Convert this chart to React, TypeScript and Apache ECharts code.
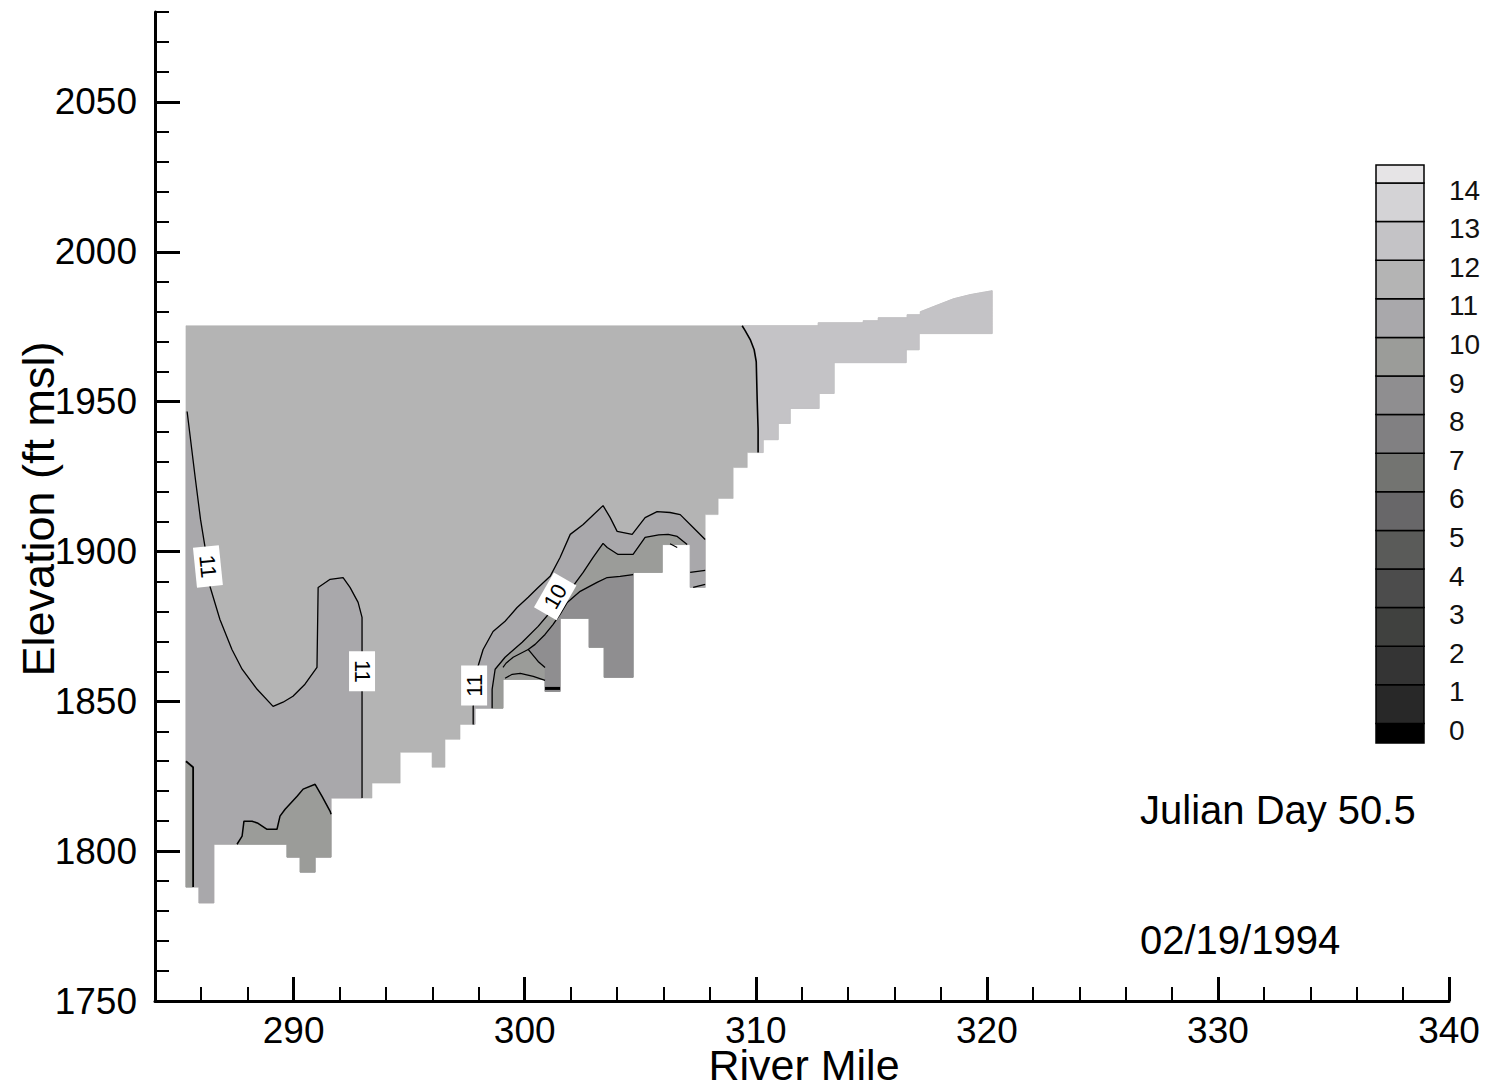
import React, { useEffect, useRef } from 'react';
import * as echarts from 'echarts';

// ---------- tick labels ----------
const X_MAJOR = [290, 300, 310, 320, 330, 340];
const Y_MAJOR = [1750, 1800, 1850, 1900, 1950, 2000, 2050];

// ---------- axis titles / annotation ----------
const X_TITLE = 'River Mile';
const Y_TITLE = 'Elevation (ft msl)';
const DAY_TEXT = 'Julian Day 50.5';
const DATE_TEXT = '02/19/1994';

// ---------- legend levels (deg C) and flood colours ----------
const LEVELS = [0, 1, 2, 3, 4, 5, 6, 7, 8, 9, 10, 11, 12, 13, 14];
// index 0 = below 0, index k = (k-1 .. k), index 15 = above 14
const LEVEL_COLORS = [
  '#000000', '#282828', '#343434', '#40413f', '#4c4c4c', '#5a5b59', '#686769', '#737471',
  '#818082', '#8f8e90', '#9b9c99', '#a9a8ab', '#b4b4b4', '#c4c3c6', '#d4d3d6', '#e6e4e6',
];

// ---------- model domain outline [river mile, elevation ft] ----------
const DOMAIN: number[][] = [
  [285.34, 1975.3], [312.70, 1975.3], [312.70, 1976.3], [314.65, 1976.3], [314.65, 1977.0],
  [315.30, 1977.0], [315.30, 1978.0], [316.55, 1978.0], [316.55, 1979.0], [317.12, 1979.0],
  [317.12, 1980.0], [317.55, 1981.3], [318.55, 1984.3], [319.28, 1985.7], [319.71, 1986.3],
  [320.23, 1987.0], [320.23, 1972.7], [317.07, 1972.7], [317.07, 1967.3], [316.51, 1967.3],
  [316.51, 1963.0], [313.39, 1963.0], [313.39, 1952.7], [312.74, 1952.7], [312.74, 1947.7],
  [311.49, 1947.7], [311.49, 1942.7], [310.97, 1942.7], [310.97, 1937.3], [310.32, 1937.3],
  [310.32, 1933.0], [309.63, 1933.0], [309.63, 1928.0], [309.02, 1928.0], [309.02, 1917.7],
  [308.37, 1917.7], [308.37, 1912.3], [307.81, 1912.3], [307.81, 1888.0], [307.16, 1888.0],
  [307.16, 1902.3], [305.95, 1902.3], [305.95, 1893.0], [304.69, 1893.0], [304.69, 1858.0],
  [303.44, 1858.0], [303.44, 1868.0], [302.79, 1868.0], [302.79, 1877.7], [301.53, 1877.7],
  [301.53, 1853.3], [300.88, 1853.3], [300.88, 1857.3], [299.06, 1857.3], [299.06, 1847.7],
  [297.85, 1847.7], [297.85, 1842.3], [297.20, 1842.3], [297.20, 1837.3], [296.55, 1837.3],
  [296.55, 1828.0], [295.99, 1828.0], [295.99, 1833.0], [294.61, 1833.0], [294.61, 1822.7],
  [293.39, 1822.7], [293.39, 1817.7], [291.62, 1817.7], [291.62, 1798.0], [290.93, 1798.0],
  [290.93, 1793.0], [290.28, 1793.0], [290.28, 1798.0], [289.71, 1798.0], [289.71, 1802.3],
  [286.55, 1802.3], [286.55, 1782.7], [285.90, 1782.7], [285.90, 1788.0], [285.34, 1788.0],
];

// ---------- contour lines ----------
const C12: number[][] = [
  [309.41, 1975.3], [309.54, 1973.7], [309.76, 1970.7], [309.93, 1967.3], [310.02, 1963.3],
  [310.06, 1950.7], [310.10, 1940.7], [310.10, 1933.0],
];
const C11_LEFT: number[][] = [
  [285.39, 1946.7], [285.75, 1924.0], [285.97, 1910.7], [286.16, 1901.7], [286.38, 1888.3],
  [286.81, 1877.3], [287.33, 1867.3], [287.77, 1860.7], [288.42, 1854.0], [289.11, 1848.3],
  [289.54, 1849.7], [289.97, 1851.7], [290.49, 1855.7], [291.01, 1861.3], [291.06, 1888.0],
  [291.58, 1890.7], [292.14, 1891.3], [292.44, 1888.0], [292.79, 1883.0], [292.96, 1878.0],
  [292.96, 1817.7],
];
const C10_BOTTOMLEFT: number[][] = [
  [287.55, 1802.3], [287.77, 1805.0], [287.85, 1810.0], [288.20, 1810.0], [288.46, 1809.3],
  [288.85, 1807.3], [289.28, 1807.3], [289.41, 1811.7], [289.63, 1814.0], [290.15, 1818.3],
  [290.41, 1820.7], [290.93, 1822.3], [291.23, 1818.3], [291.58, 1813.3], [291.62, 1812.3],
];
const C10_STRIP: number[][] = [[285.34, 1830.0], [285.65, 1828.0], [285.65, 1788.0]];
const C11_RIGHT: number[][] = [
  [297.77, 1842.3], [297.77, 1848.3], [297.98, 1861.7], [298.20, 1867.3], [298.63, 1873.3],
  [299.15, 1876.7], [299.67, 1881.3], [300.15, 1884.7], [300.58, 1888.0], [301.10, 1891.7],
  [301.53, 1898.0], [301.97, 1905.7], [302.53, 1909.0], [303.39, 1915.3], [303.70, 1911.3],
  [304.00, 1906.7], [304.65, 1905.7], [305.21, 1911.3], [305.73, 1913.3], [306.29, 1913.0],
  [306.73, 1912.3], [307.29, 1908.0], [307.81, 1904.0],
];
const C10_RIGHT: number[][] = [
  [298.59, 1847.7], [298.59, 1854.0], [298.72, 1860.7], [299.15, 1864.7], [299.89, 1869.7],
  [300.58, 1875.0], [301.10, 1879.7], [301.66, 1884.0], [302.05, 1888.0], [302.53, 1893.0],
  [302.96, 1898.0], [303.39, 1902.7], [303.57, 1901.3], [304.04, 1899.0], [304.69, 1899.0],
  [305.21, 1904.7], [305.80, 1905.5], [306.21, 1905.7], [306.60, 1905.0], [307.03, 1902.3],
];
const C9_RIGHT: number[][] = [
  [304.69, 1892.3], [304.13, 1891.7], [303.57, 1891.3], [303.13, 1889.7], [302.40, 1886.7],
  [301.84, 1883.0], [301.53, 1879.0], [301.23, 1875.7], [300.88, 1872.3], [300.45, 1869.0],
  [300.15, 1867.3], [300.58, 1863.3], [300.88, 1861.3],
];
const C9_SPUR: number[][] = [[300.15, 1867.3], [299.50, 1864.7], [299.19, 1862.7], [299.06, 1861.3]];
const C8_BIT: number[][] = [[299.15, 1857.7], [299.46, 1859.0], [299.81, 1859.3], [300.37, 1858.3], [300.88, 1857.0]];
const C7_BIT: number[][] = [[300.88, 1854.3], [301.53, 1854.3]];
const STRIP_BITS: number[][][] = [
  [[307.16, 1893.0], [307.81, 1893.7]],
  [[307.29, 1888.0], [307.81, 1889.0]],
  [[306.29, 1902.6], [306.60, 1901.3]],
];

// ---------- contour labels ----------
const LABEL_POS: number[][] = [[286.29, 1895.0], [292.96, 1860.0], [297.81, 1855.3], [301.32, 1885.0]];
const LABEL_TEXT = ['11', '11', '11', '10'];

// ---------- flooded regions built from the arrays above ----------
const REGIONS: { level: number; pts: number[][] }[] = [
  { level: 11, pts: DOMAIN },
  { level: 12, pts: [...C12, ...DOMAIN.slice(1, 31).reverse()] },
  { level: 10, pts: [...C11_LEFT, ...DOMAIN.slice(67, 80), [285.34, C11_LEFT[0][1]]] },
  { level: 9, pts: [...C10_BOTTOMLEFT, ...DOMAIN.slice(68, 75)] },
  { level: 9, pts: [...C10_STRIP, DOMAIN[79]] },
  { level: 10, pts: [...C11_RIGHT, ...DOMAIN.slice(38, 57)] },
  { level: 9, pts: [...C10_RIGHT, ...DOMAIN.slice(41, 55)] },
  { level: 8, pts: [...C9_RIGHT, ...DOMAIN.slice(43, 53).reverse()] },
];

const CONTOURS: { pts: number[][]; w: number }[] = [
  { pts: C12, w: 1.6 },
  { pts: C11_LEFT, w: 1.3 },
  { pts: C10_BOTTOMLEFT, w: 1.5 },
  { pts: C10_STRIP, w: 1.8 },
  { pts: C11_RIGHT, w: 1.3 },
  { pts: C10_RIGHT, w: 1.3 },
  { pts: C9_RIGHT, w: 1.3 },
  { pts: C9_SPUR, w: 1.2 },
  { pts: C8_BIT, w: 1.2 },
  { pts: C7_BIT, w: 3 },
  ...STRIP_BITS.map((p) => ({ pts: p, w: 1.2 })),
];

const FONT = "'Liberation Sans', Arial, Helvetica, sans-serif";
const LABEL_ROT = [-1.47, -Math.PI / 2, Math.PI / 2, 1.05];

function buildGraphic() {
  const x = 1376;
  const w = 48;
  const top = 165;
  const bottom = 743;
  const bnd = (v: number) => 183 + (14 - v) * 38.6;
  const els: any[] = [];
  for (let i = 0; i < LEVEL_COLORS.length; i++) {
    const y0 = i === LEVEL_COLORS.length - 1 ? top : bnd(i);
    const y1 = i === 0 ? bottom : bnd(i - 1);
    els.push({
      type: 'rect',
      shape: { x, y: y0, width: w, height: y1 - y0 },
      style: { fill: LEVEL_COLORS[i], stroke: '#000', lineWidth: 1.5 },
      silent: true,
    });
  }
  LEVELS.forEach((v) => {
    els.push({
      type: 'text',
      x: 1449,
      y: bnd(v) + 7,
      style: {
        text: String(v),
        fontSize: 28,
        fontFamily: FONT,
        fill: '#111',
        align: 'left',
        verticalAlign: 'middle',
      },
      silent: true,
    });
  });
  els.push({
    type: 'text',
    x: 1140,
    y: 810,
    style: { text: DAY_TEXT, fontSize: 40, fontFamily: FONT, fill: '#000', align: 'left', verticalAlign: 'middle' },
  });
  els.push({
    type: 'text',
    x: 1140,
    y: 940,
    style: { text: DATE_TEXT, fontSize: 40, fontFamily: FONT, fill: '#000', align: 'left', verticalAlign: 'middle' },
  });
  els.push({
    type: 'text',
    x: 804,
    y: 1065,
    style: {
      text: X_TITLE, fontSize: 43, lineHeight: 40, fontFamily: FONT, fill: '#000',
      align: 'center', verticalAlign: 'middle',
    },
  });
  els.push({
    type: 'text',
    x: 38,
    y: 509,
    rotation: Math.PI / 2,
    style: { text: Y_TITLE, fontSize: 45, fontFamily: FONT, fill: '#000', align: 'center', verticalAlign: 'middle' },
  });
  return els;
}

function buildOption(): any {
  return {
    animation: false,
    backgroundColor: '#ffffff',
    grid: { left: 155, top: 12, right: 42, bottom: 90, containLabel: false, outerBoundsMode: 'none' },
    xAxis: [
      {
        type: 'value',
        position: 'bottom',
        min: 284,
        max: 340,
        interval: 2,
        axisLine: { show: true, lineStyle: { color: '#000', width: 3 } },
        axisTick: { show: true, inside: true, length: 14, lineStyle: { color: '#000', width: 2 } },
        axisLabel: {
          customValues: X_MAJOR,
          formatter: (v: number) => String(v),
          fontSize: 37,
          lineHeight: 36,
          fontFamily: FONT,
          color: '#000',
          margin: 11,
        },
        splitLine: { show: false },
      },
      {
        type: 'value',
        position: 'bottom',
        min: 284,
        max: 340,
        axisLine: { show: false },
        axisTick: { show: true, inside: true, length: 24, customValues: X_MAJOR, lineStyle: { color: '#000', width: 3 } },
        axisLabel: { show: false },
        splitLine: { show: false },
      },
    ],
    yAxis: [
      {
        type: 'value',
        position: 'left',
        min: 1750,
        max: 2080,
        interval: 10,
        axisLine: { show: true, lineStyle: { color: '#000', width: 3 } },
        axisTick: { show: true, inside: true, length: 14, lineStyle: { color: '#000', width: 2 } },
        axisLabel: {
          customValues: Y_MAJOR,
          formatter: (v: number) => String(v),
          fontSize: 37,
          fontFamily: FONT,
          color: '#000',
          margin: 18,
        },
        splitLine: { show: false },
      },
      {
        type: 'value',
        position: 'left',
        min: 1750,
        max: 2080,
        axisLine: { show: false },
        axisTick: { show: true, inside: true, length: 25, customValues: Y_MAJOR, lineStyle: { color: '#000', width: 3 } },
        axisLabel: { show: false },
        splitLine: { show: false },
      },
    ],
    series: [
      {
        type: 'custom',
        name: 'regions',
        coordinateSystem: 'cartesian2d',
        xAxisIndex: 0,
        yAxisIndex: 0,
        clip: false,
        silent: true,
        z: 1,
        data: REGIONS.map((r) => r.pts[0]),
        renderItem: (params: any, api: any) => {
          const r = REGIONS[params.dataIndex];
          const c = LEVEL_COLORS[r.level + 1];
          return {
            type: 'polygon',
            shape: { points: r.pts.map((p) => api.coord(p)) },
            style: { fill: c, stroke: c, lineWidth: 0.6 },
          };
        },
      },
      ...CONTOURS.map((c) => ({
        type: 'line',
        xAxisIndex: 0,
        yAxisIndex: 0,
        data: c.pts,
        symbol: 'none',
        silent: true,
        z: 3,
        lineStyle: { color: '#000', width: c.w },
      })),
      {
        type: 'custom',
        name: 'labels',
        coordinateSystem: 'cartesian2d',
        xAxisIndex: 0,
        yAxisIndex: 0,
        clip: false,
        silent: true,
        z: 5,
        data: LABEL_POS,
        renderItem: (params: any, api: any) => {
          const i = params.dataIndex;
          const p = api.coord(LABEL_POS[i]);
          return {
            type: 'group',
            x: p[0],
            y: p[1],
            rotation: LABEL_ROT[i],
            children: [
              { type: 'rect', shape: { x: -20, y: -13, width: 40, height: 26 }, style: { fill: '#fff' } },
              {
                type: 'text',
                style: {
                  text: LABEL_TEXT[i],
                  x: 0,
                  y: 0,
                  fontSize: 22,
                  fontFamily: FONT,
                  fill: '#000',
                  align: 'center',
                  verticalAlign: 'middle',
                },
              },
            ],
          };
        },
      },
    ],
    graphic: buildGraphic(),
  };
}

export default function App() {
  const ref = useRef<HTMLDivElement>(null);
  useEffect(() => {
    if (!ref.current) return;
    const chart = echarts.init(ref.current, null, { renderer: 'svg' });
    chart.setOption(buildOption());
    return () => chart.dispose();
  }, []);
  return (
    <div
      ref={ref}
      style={{ position: 'absolute', left: 0, top: 0, width: 1491, height: 1091, background: '#fff' }}
    />
  );
}
